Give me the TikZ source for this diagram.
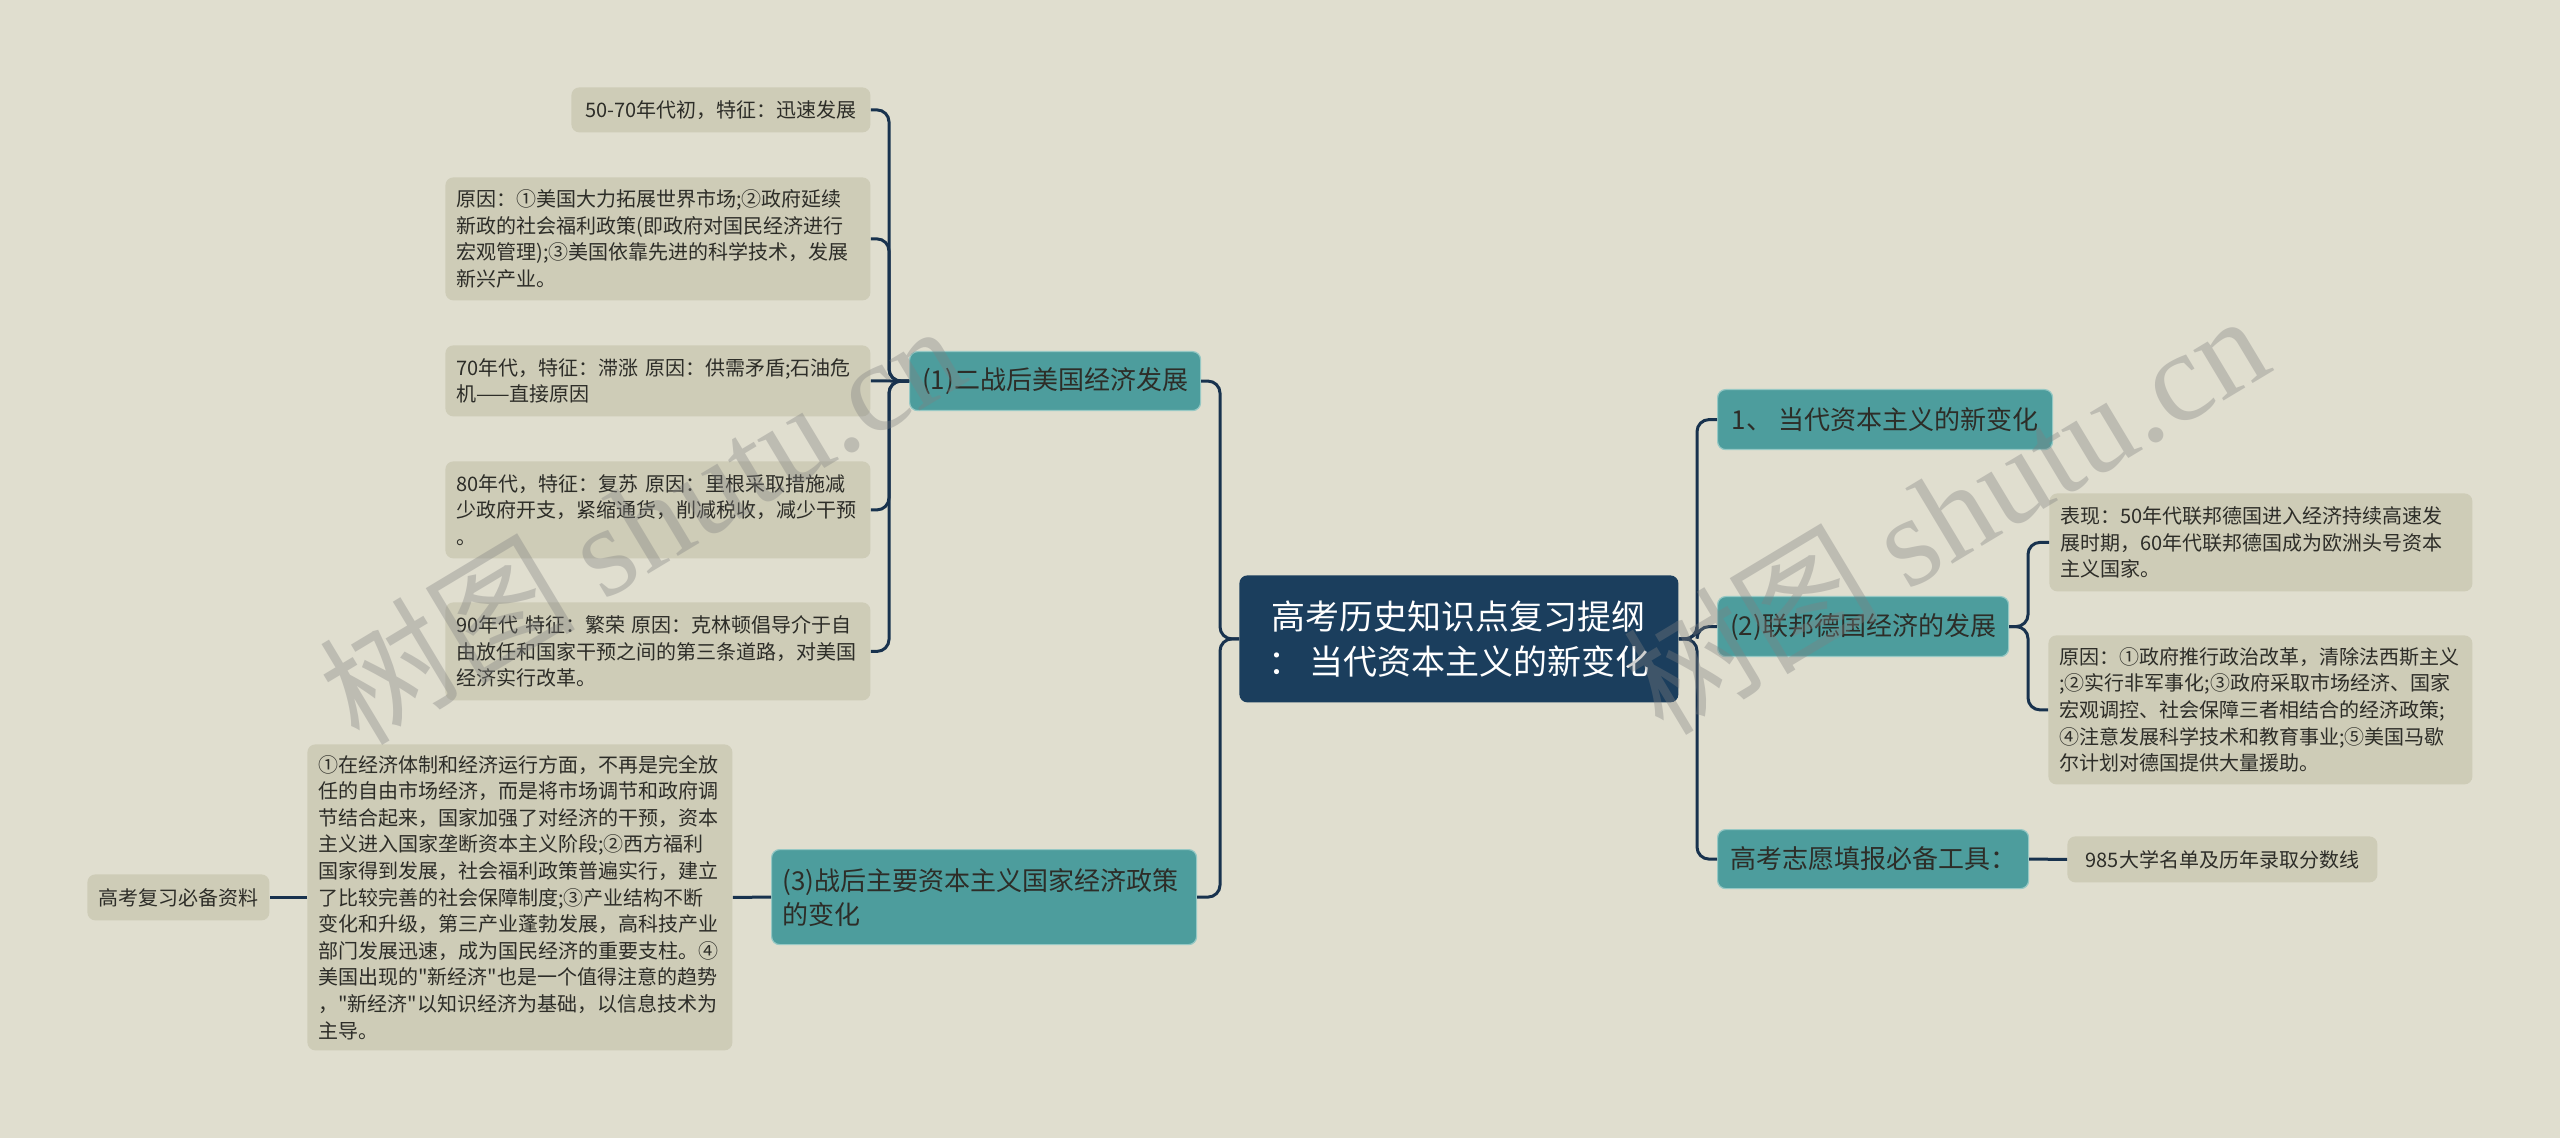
\documentclass[tikz,border=0pt]{standalone}
\usepackage{fontspec}
\setmainfont{Noto Sans CJK SC}
\newfontfamily\cjk{Noto Sans CJK SC}
\newfontfamily\wmfont{Liberation Serif}
\definecolor{bgcol}{RGB}{224,222,207}
\definecolor{leafcol}{RGB}{206,204,183}
\definecolor{topiccol}{RGB}{77,157,157}
\definecolor{topicrim}{RGB}{150,200,196}
\definecolor{rootcol}{RGB}{27,62,93}
\definecolor{linecol}{RGB}{24,50,78}
\definecolor{txtcol}{RGB}{45,45,40}
\begin{document}
\begin{tikzpicture}[x=0.5pt,y=-0.5pt,
	every node/.style={text=txtcol,inner sep=0pt},
	itembox/.style={rounded corners=4pt,anchor=north west,inner xsep=5.5pt},
	leaf/.style={itembox,fill=leafcol,font=\cjk\fontsize{10pt}{13.3pt}\selectfont},
	topic/.style={itembox,fill=topiccol,draw=topicrim,line width=0.6pt,font=\cjk\fontsize{13pt}{17pt}\selectfont},
	rootbox/.style={itembox,fill=rootcol,text=white,align=center,font=\cjk\fontsize{17pt}{22.5pt}\selectfont},
	link/.style={draw=linecol,line width=1.5pt,rounded corners=6pt},
	wmark/.style={text=black!50,opacity=0.36,rotate=31,font=\cjk\fontsize{64pt}{64pt}\selectfont}]
	\fill[bgcol] (0,0) rectangle (2560,1138);
	\useasboundingbox (0,0) rectangle (2560,1138);
	\coordinate (busA) at (1220,0);
	\coordinate (busB) at (889,0);
	\coordinate (busC) at (1697,0);
	\coordinate (busD) at (2028,0);
	
	\node[rootbox,minimum width=219.5pt,minimum height=63.5pt] (root) at (1239,575) {高考历史知识点复习提纲\\：\ 当代资本主义的新变化};
	
	\node[topic,minimum width=145.5pt,minimum height=29.5pt] (usa) at (909,351) {(1)二战后美国经济发展};
	\node[topic,text width=201.5pt,align=left,minimum height=47.5pt] (policy) at (771,849) {(3)战后主要资本主义国家经济政策\\的变化};
	\node[topic,minimum width=167.5pt,minimum height=30pt] (change) at (1717,389) {1、 当代资本主义的新变化};
	\node[topic,minimum width=145.5pt,minimum height=30pt] (germany) at (1717,596) {(2)联邦德国经济的发展};
	\node[topic,minimum width=155.5pt,minimum height=29.5pt] (tools) at (1717,829) {高考志愿填报必备工具：};
	
	\node[leaf,minimum width=149.5pt,minimum height=22.5pt] (usaA) at (571,87) {50-70年代初，特征：迅速发展};
	\node[leaf,text width=201.5pt,align=left,minimum height=61.5pt] (usaB) at (445,177) {原因：①美国大力拓展世界市场;②政府延续\\新政的社会福利政策(即政府对国民经济进行\\宏观管理);③美国依靠先进的科学技术，发展\\新兴产业。};
	\node[leaf,text width=201.5pt,align=left,minimum height=35.5pt] (usaC) at (445,345) {70年代，特征：滞涨~原因：供需矛盾;石油危\\机——直接原因};
	\node[leaf,text width=201.5pt,align=left,minimum height=48.5pt] (usaD) at (445,461) {80年代，特征：复苏~原因：里根采取措施减\\少政府开支，紧缩通货，削减税收，减少干预\\。};
	\node[leaf,text width=201.5pt,align=left,minimum height=49pt] (usaE) at (445,602) {90年代~特征：繁荣~原因：克林顿倡导介于自\\由放任和国家干预之间的第三条道路，对美国\\经济实行改革。};
	
	\node[leaf,text width=201.5pt,align=left,minimum height=153pt] (policyA) at (307,744) {①在经济体制和经济运行方面，不再是完全放\\任的自由市场经济，而是将市场调节和政府调\\节结合起来，国家加强了对经济的干预，资本\\主义进入国家垄断资本主义阶段;②西方福利\\国家得到发展，社会福利政策普遍实行，建立\\了比较完善的社会保障制度;③产业结构不断\\变化和升级，第三产业蓬勃发展，高科技产业\\部门发展迅速，成为国民经济的重要支柱。④\\美国出现的"新经济"也是一个值得注意的趋势\\，"新经济"以知识经济为基础，以信息技术为\\主导。};
	\node[leaf,minimum width=90.5pt,minimum height=23pt] (review) at (87,874) {高考复习必备资料};
	
	\node[leaf,text width=200.5pt,align=left,minimum height=49pt] (germanyA) at (2049,493) {表现：50年代联邦德国进入经济持续高速发\\展时期，60年代联邦德国成为欧洲头号资本\\主义国家。};
	\node[leaf,text width=201pt,align=left,minimum height=74.5pt] (germanyB) at (2048,635) {原因：①政府推行政治改革，清除法西斯主义\\;②实行非军事化;③政府采取市场经济、国家\\宏观调控、社会保障三者相结合的经济政策;\\④注意发展科学技术和教育事业;⑤美国马歇\\尔计划对德国提供大量援助。};
	\node[leaf,minimum width=155pt,minimum height=23pt] (toolsA) at (2067,836) {985大学名单及历年录取分数线};
	
	\draw[link] (root.west) -- (root.west -| busA) |- (usa.east);
	\draw[link] (root.west) -- (root.west -| busA) |- (policy.east);
	\draw[link] (usa.west) -- (usa.west -| busB) |- (usaA.east);
	\draw[link] (usa.west) -- (usa.west -| busB) |- (usaB.east);
	\draw[link] (usa.west) -- (usaC.east);
	\draw[link] (usa.west) -- (usa.west -| busB) |- (usaD.east);
	\draw[link] (usa.west) -- (usa.west -| busB) |- (usaE.east);
	\draw[link] (policy.west) -- (policyA.east);
	\draw[link] (policyA.west) -- (review.east);
	\draw[link] (root.east) -- (root.east -| busC) |- (change.west);
	\draw[link] (root.east) -- (root.east -| busC) |- (germany.west);
	\draw[link] (root.east) -- (root.east -| busC) |- (tools.west);
	\draw[link] (germany.east) -- (germany.east -| busD) |- (germanyA.west);
	\draw[link] (germany.east) -- (germany.east -| busD) |- (germanyB.west);
	\draw[link] (tools.east) -- (toolsA.west);
	
	\node[wmark] (wmA) at (641,522) {树图 {\wmfont shutu.cn}};
	\node[wmark] (wmB) at (1945,512) {树图 {\wmfont shutu.cn}};
\end{tikzpicture}
\end{document}
